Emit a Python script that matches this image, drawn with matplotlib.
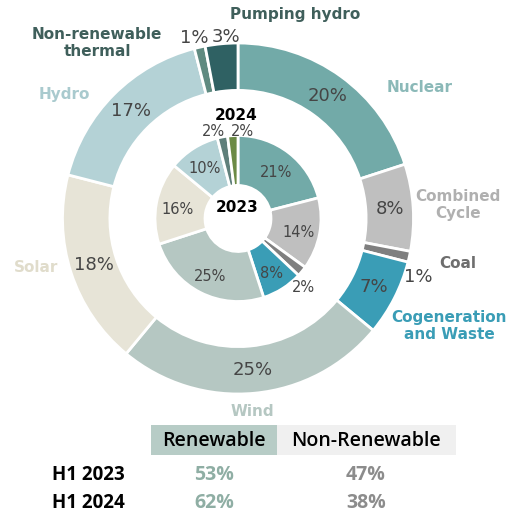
import matplotlib
matplotlib.use("Agg")
import matplotlib.pyplot as plt
import numpy as np

# ---- data -------------------------------------------------------------
SOURCES = ["Nuclear", "Combined Cycle", "Coal", "Cogeneration and Waste",
           "Wind", "Solar", "Hydro", "Non-renewable thermal", "Pumping hydro"]
SHARE_2024 = [20, 8, 1, 7, 25, 18, 17, 1, 3]
SHARE_2023 = [21, 14, 2, 8, 25, 16, 10, 2, 2]

TABLE_COLS = ["Renewable", "Non-Renewable"]
TABLE_ROWS = ["H1 2023", "H1 2024"]
RENEWABLE = [53, 62]
NON_RENEWABLE = [47, 38]

# ---- style ------------------------------------------------------------
OUTER_COLORS = ["#72AAA8", "#BFBFBF", "#7F7F7F", "#3A9DB6", "#B5C7C2",
                "#E7E4D7", "#B4D2D6", "#5F8A80", "#2F6163"]
INNER_COLORS = ["#72AAA8", "#BFBFBF", "#7F7F7F", "#3A9DB6", "#B5C7C2",
                "#E7E4D7", "#B4D2D6", "#5F7F7A", "#6B8A45"]
LABEL_COLORS = ["#8BB9B8", "#B0B0B0", "#6E6E6E", "#3A9DB6", "#B5C7C2",
                "#E0DCCB", "#A9CACE", "#3F5F5B", "#3F5F5B"]
PCT_COLOR = "#454545"

W, H = 510, 513
CX, CY = 238, 218.5          # ring centre in pixels
SCALE = 175.5                # pixels per data unit (outer radius = 1)

R_OUT, W_OUT = 1.0, 0.27
R_IN, W_IN = 0.473, 0.285


def px(x, y):
    """pixel (from top-left) -> data coords"""
    return (x - CX) / SCALE, (CY - y) / SCALE


fig = plt.figure(figsize=(W / 100, H / 100), dpi=100)
ax = fig.add_axes([0, 0, 1, 1])
ax.axis("off")

wp = dict(edgecolor="white", linewidth=2)
ax.pie(SHARE_2024, radius=R_OUT, colors=OUTER_COLORS, startangle=90,
       counterclock=False, wedgeprops=dict(width=W_OUT, **wp))
ax.pie(SHARE_2023, radius=R_IN, colors=INNER_COLORS, startangle=90,
       counterclock=False, wedgeprops=dict(width=W_IN, **wp))
ax.set_xlim(-CX / SCALE, (W - CX) / SCALE)
ax.set_ylim(-(H - CY) / SCALE, CY / SCALE)


def mid_angles(shares):
    cum = np.cumsum(shares) - np.asarray(shares) / 2
    return np.deg2rad(90 - cum / sum(shares) * 360)


# percentage labels inside the rings (small slices placed by hand)
outer_small = {2: (418, 277), 7: (194, 38), 8: (226, 37)}
for i, (v, a) in enumerate(zip(SHARE_2024, mid_angles(SHARE_2024))):
    pos = px(*outer_small[i]) if i in outer_small else (0.866 * np.cos(a), 0.866 * np.sin(a))
    ax.text(*pos, f"{v}%", ha="center", va="center", fontsize=13, color=PCT_COLOR)

inner_small = {2: (303, 287), 7: (213, 132), 8: (242, 132)}
for i, (v, a) in enumerate(zip(SHARE_2023, mid_angles(SHARE_2023))):
    pos = px(*inner_small[i]) if i in inner_small else (0.352 * np.cos(a), 0.352 * np.sin(a) - 0.015)
    ax.text(*pos, f"{v}%", ha="center", va="center", fontsize=10.5, color=PCT_COLOR)

ax.text(*px(236, 115), "2024", ha="center", va="center", fontsize=11, fontweight="bold")
ax.text(*px(237, 207), "2023", ha="center", va="center", fontsize=11, fontweight="bold")

# source names
name_pos = [(420, 88), (458, 205), (458, 263), (449, 326), (252, 412),
            (36, 268), (64, 95), (97, 43), (295, 14)]
name_text = ["Nuclear", "Combined\nCycle", "Coal", "Cogeneration\nand Waste",
             "Wind", "Solar", "Hydro", "Non-renewable\nthermal", "Pumping hydro"]
for (x, y), t, c in zip(name_pos, name_text, LABEL_COLORS):
    ax.text(*px(x, y), t, ha="center", va="center", fontsize=11, fontweight="bold",
            color=c, linespacing=1.1)

# summary table
cell_x = [(151, 277), (277, 456)]
cell_bg = ["#B7CCC6", "#F0F0F0"]
for (x0, x1), bg, col in zip(cell_x, cell_bg, TABLE_COLS):
    ax.add_patch(plt.Rectangle(px(x0, 455), (x1 - x0) / SCALE, 30 / SCALE,
                               facecolor=bg, edgecolor="none"))
    ax.text(*px((x0 + x1) / 2, 441), col, ha="center", va="center", fontsize=14,
            fontweight="semibold", family="Open Sans", color="black")

row_y = [475, 503]
for y, lab, r, n in zip(row_y, TABLE_ROWS, RENEWABLE, NON_RENEWABLE):
    ax.text(*px(88, y), lab, ha="center", va="center", fontsize=13.5, fontweight="bold",
            family="Open Sans", color="black")
    ax.text(*px(214, y), f"{r}%", ha="center", va="center", fontsize=14,
            fontweight="bold", family="Open Sans", color="#8FAEA4")
    ax.text(*px(366, y), f"{n}%", ha="center", va="center", fontsize=14,
            fontweight="bold", family="Open Sans", color="#8C8C8C")

fig.savefig("out.png", dpi=100)
